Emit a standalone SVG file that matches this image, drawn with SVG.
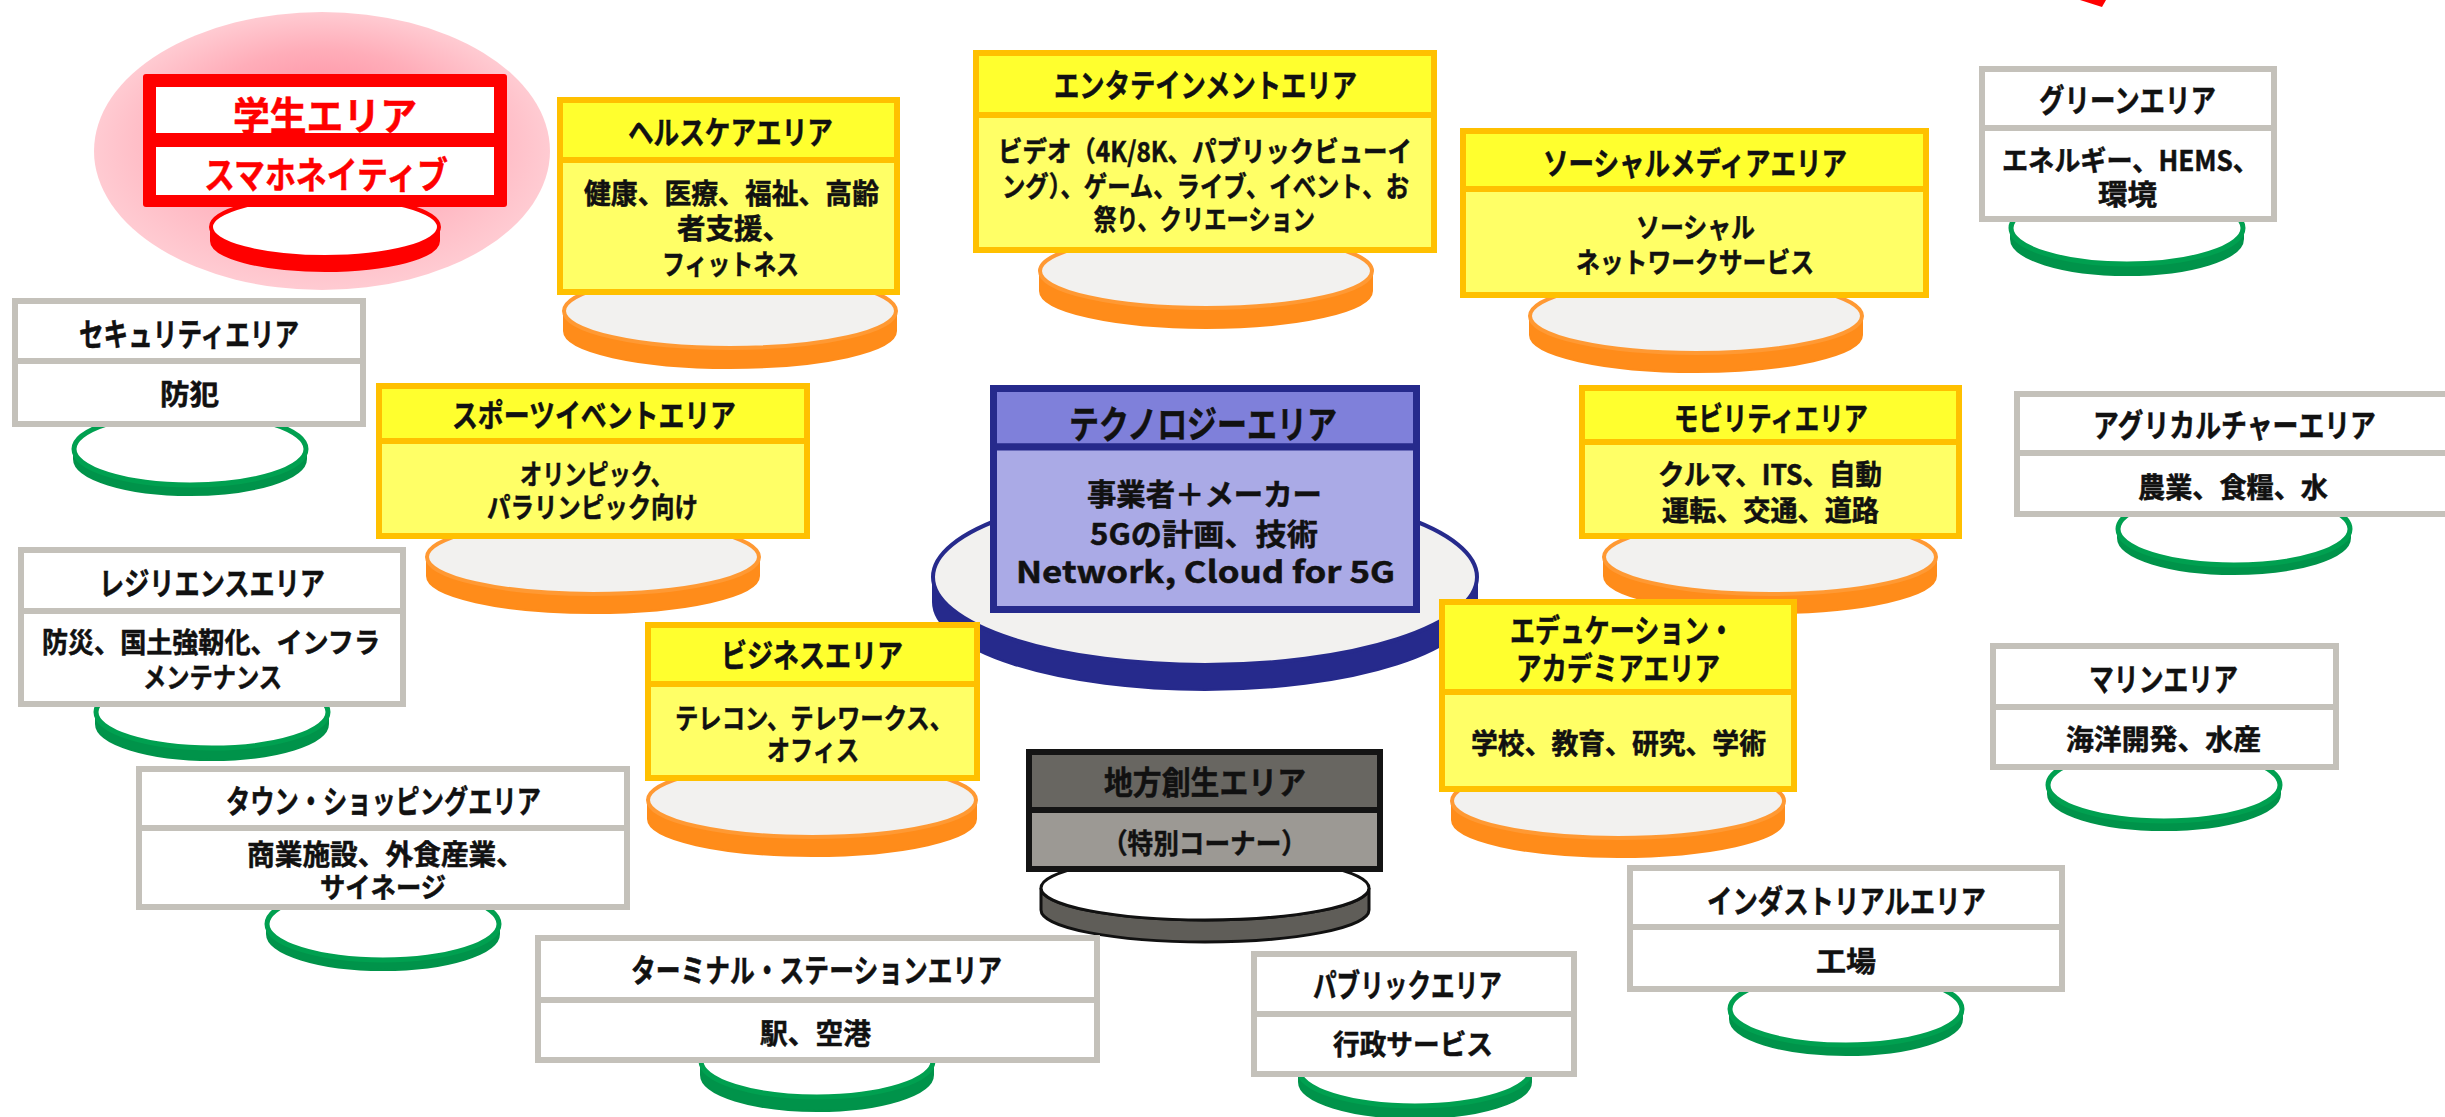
<svg xmlns="http://www.w3.org/2000/svg" width="2445" height="1117" viewBox="0 0 2445 1117">
<defs>
<radialGradient id="pink" cx="0.5" cy="0.5" r="0.5" fx="0.5" fy="0.3">
<stop offset="0" stop-color="#FF93A5"/>
<stop offset="0.55" stop-color="#FFADB9"/>
<stop offset="1" stop-color="#FFCBD2"/>
</radialGradient>
</defs>
<style>
.t{font-family:"Noto Sans CJK JP","Noto Sans",sans-serif;font-weight:700;text-anchor:middle;dominant-baseline:central;fill:#111;stroke:#111;stroke-width:0.5}
.ti{font-size:32px}
.bd{font-size:28px}
.yt{fill:#FFFF2E;stroke:#FFC000;stroke-width:6}
.yb{fill:#FFFF66;stroke:#FFC000;stroke-width:6}
.gc{fill:#FFFFFF;stroke:#C4C1BA;stroke-width:6}
.os{fill:#FF8C1A;stroke:#FF8C1A;stroke-width:2}
.ot{fill:#F2F1EF;stroke:#FF9933;stroke-width:4}
.gs{fill:#00934A;stroke:#00934A;stroke-width:2}
.gt{fill:#FFFFFF;stroke:#00A050;stroke-width:5}
</style>
<rect x="0" y="0" width="2445" height="1117" fill="#FFFFFF"/>
<polygon points="2080,0 2106,0 2102,7" fill="#FF0000"/>
<g id="connectors"/>

<g id="student">
<ellipse cx="322" cy="151" rx="228" ry="139" fill="url(#pink)"/>
<path d="M211,227 A114,30 0 0 0 439,227 L439,241 A114,30 0 0 1 211,241 Z" fill="#FF0000" stroke="#FF0000" stroke-width="2"/>
<ellipse cx="325" cy="227" rx="114" ry="30" fill="#FFFFFF" stroke="#FF0000" stroke-width="4"/>
<rect x="143" y="74" width="364" height="133" rx="3" fill="#FF0000"/>
<rect x="156" y="87" width="338" height="46" fill="#FFFFFF"/>
<rect x="156" y="147" width="338" height="48" fill="#FFFFFF"/>
<text class="t" x="325" y="113" font-size="39" textLength="184" lengthAdjust="spacingAndGlyphs" style="fill:#FF0000;stroke:#FF0000">学生エリア</text>
<text class="t" x="326" y="173" font-size="37" textLength="244" lengthAdjust="spacingAndGlyphs" style="fill:#FF0000;stroke:#FF0000">スマホネイティブ</text>
</g>

<g id="healthcare">
<path class="os" d="M564,311 A166,37 0 0 0 896,311 L896,331 A166,37 0 0 1 564,331 Z"/>
<ellipse class="ot" cx="730" cy="311" rx="166" ry="37"/>
<rect class="yt" x="560" y="100" width="337" height="60"/>
<rect class="yb" x="560" y="160" width="337" height="132"/>
<text class="t ti" x="730.5" y="130" textLength="205" lengthAdjust="spacingAndGlyphs">ヘルスケアエリア</text>
<text class="t bd" x="731.5" y="192" textLength="295" lengthAdjust="spacingAndGlyphs">健康、医療、福祉、高齢</text>
<text class="t bd" x="734" y="227" textLength="114" lengthAdjust="spacingAndGlyphs">者支援、</text>
<text class="t bd" x="730.5" y="263" textLength="137" lengthAdjust="spacingAndGlyphs">フィットネス</text>
</g>

<g id="entertainment">
<path class="os" d="M1040,271 A166,37 0 0 0 1372,271 L1372,291 A166,37 0 0 1 1040,291 Z"/>
<ellipse class="ot" cx="1206" cy="271" rx="166" ry="37"/>
<rect class="yt" x="976" y="53" width="458" height="62"/>
<rect class="yb" x="976" y="115" width="458" height="135"/>
<text class="t ti" x="1205.5" y="83" textLength="303" lengthAdjust="spacingAndGlyphs">エンタテインメントエリア</text>
<text class="t bd" x="1205" y="150" textLength="414" lengthAdjust="spacingAndGlyphs">ビデオ（4K/8K、パブリックビューイ</text>
<text class="t bd" x="1205.5" y="185" textLength="407" lengthAdjust="spacingAndGlyphs">ング）、ゲーム、ライブ、イベント、お</text>
<text class="t bd" x="1204.5" y="218" textLength="221" lengthAdjust="spacingAndGlyphs">祭り、クリエーション</text>
</g>

<g id="social">
<path class="os" d="M1530,316 A166,37 0 0 0 1862,316 L1862,335 A166,37 0 0 1 1530,335 Z"/>
<ellipse class="ot" cx="1696" cy="316" rx="166" ry="37"/>
<rect class="yt" x="1463" y="131" width="463" height="58"/>
<rect class="yb" x="1463" y="189" width="463" height="106"/>
<text class="t ti" x="1695" y="161" textLength="304" lengthAdjust="spacingAndGlyphs">ソーシャルメディアエリア</text>
<text class="t bd" x="1695.5" y="226" textLength="119" lengthAdjust="spacingAndGlyphs">ソーシャル</text>
<text class="t bd" x="1695" y="261" textLength="238" lengthAdjust="spacingAndGlyphs">ネットワークサービス</text>
</g>

<g id="green">
<path class="gs" d="M2011,228 A116,36 0 0 0 2243,228 L2243,239 A116,36 0 0 1 2011,239 Z"/>
<ellipse class="gt" cx="2127" cy="228" rx="116" ry="36"/>
<rect class="gc" x="1982" y="69" width="292" height="59"/>
<rect class="gc" x="1982" y="128" width="292" height="91"/>
<text class="t ti" x="2127.5" y="98" textLength="177" lengthAdjust="spacingAndGlyphs">グリーンエリア</text>
<text class="t bd" x="2130.5" y="159" textLength="257" lengthAdjust="spacingAndGlyphs">エネルギー、HEMS、</text>
<text class="t bd" x="2127.5" y="193" textLength="59" lengthAdjust="spacingAndGlyphs">環境</text>
</g>

<g id="security">
<path class="gs" d="M74,449 A116,36 0 0 0 306,449 L306,459 A116,36 0 0 1 74,459 Z"/>
<ellipse class="gt" cx="190" cy="449" rx="116" ry="36"/>
<rect class="gc" x="15" y="301" width="348" height="60"/>
<rect class="gc" x="15" y="361" width="348" height="63"/>
<text class="t ti" x="189" y="332" textLength="220" lengthAdjust="spacingAndGlyphs">セキュリティエリア</text>
<text class="t bd" x="189.5" y="393" textLength="59" lengthAdjust="spacingAndGlyphs">防犯</text>
</g>

<g id="sports">
<path class="os" d="M427,557 A166,37 0 0 0 759,557 L759,576 A166,37 0 0 1 427,576 Z"/>
<ellipse class="ot" cx="593" cy="557" rx="166" ry="37"/>
<rect class="yt" x="379" y="386" width="428" height="55"/>
<rect class="yb" x="379" y="441" width="428" height="95"/>
<text class="t ti" x="594" y="413" textLength="284" lengthAdjust="spacingAndGlyphs">スポーツイベントエリア</text>
<text class="t bd" x="596.5" y="473" textLength="153" lengthAdjust="spacingAndGlyphs">オリンピック、</text>
<text class="t bd" x="592.5" y="506" textLength="211" lengthAdjust="spacingAndGlyphs">パラリンピック向け</text>
</g>

<g id="technology">
<path d="M933,577 A272,88 0 0 0 1477,577 L1477,602 A272,88 0 0 1 933,602 Z" fill="#262A8C" stroke="#262A8C" stroke-width="2"/>
<ellipse cx="1205" cy="577" rx="272" ry="88" fill="#F2F1EF" stroke="#262A8C" stroke-width="4"/>
<rect x="993.5" y="388.5" width="423" height="58.5" fill="#7F80DA" stroke="#262A8C" stroke-width="7"/>
<rect x="993.5" y="447" width="423" height="162.5" fill="#AAAAE6" stroke="#262A8C" stroke-width="7"/>
<text class="t" x="1203" y="421" font-size="38" textLength="268" lengthAdjust="spacingAndGlyphs">テクノロジーエリア</text>
<text class="t" x="1204.5" y="492" font-size="30" textLength="235" lengthAdjust="spacingAndGlyphs">事業者＋メーカー</text>
<text class="t" x="1204" y="532" font-size="30" textLength="228" lengthAdjust="spacingAndGlyphs">5Gの計画、技術</text>
<text class="t" x="1205.5" y="570" font-size="30" textLength="379" lengthAdjust="spacingAndGlyphs">Network, Cloud for 5G</text>
</g>

<g id="mobility">
<path class="os" d="M1604,557 A166,37 0 0 0 1936,557 L1936,576 A166,37 0 0 1 1604,576 Z"/>
<ellipse class="ot" cx="1770" cy="557" rx="166" ry="37"/>
<rect class="yt" x="1582" y="388" width="377" height="54"/>
<rect class="yb" x="1582" y="442" width="377" height="94"/>
<text class="t ti" x="1771" y="416" textLength="194" lengthAdjust="spacingAndGlyphs">モビリティエリア</text>
<text class="t bd" x="1770" y="473" textLength="224" lengthAdjust="spacingAndGlyphs">クルマ、ITS、自動</text>
<text class="t bd" x="1770.5" y="509" textLength="217" lengthAdjust="spacingAndGlyphs">運転、交通、道路</text>
</g>

<g id="agriculture">
<path class="gs" d="M2118,529 A116,36 0 0 0 2350,529 L2350,538 A116,36 0 0 1 2118,538 Z"/>
<ellipse class="gt" cx="2234" cy="529" rx="116" ry="36"/>
<rect class="gc" x="2017" y="394" width="440" height="59"/>
<rect class="gc" x="2017" y="453" width="440" height="61"/>
<text class="t ti" x="2234.5" y="423" textLength="283" lengthAdjust="spacingAndGlyphs">アグリカルチャーエリア</text>
<text class="t bd" x="2233" y="486" textLength="190" lengthAdjust="spacingAndGlyphs">農業、食糧、水</text>
</g>

<g id="resilience">
<path class="gs" d="M96,712 A116,36 0 0 0 328,712 L328,724 A116,36 0 0 1 96,724 Z"/>
<ellipse class="gt" cx="212" cy="712" rx="116" ry="36"/>
<rect class="gc" x="21" y="550" width="382" height="61"/>
<rect class="gc" x="21" y="611" width="382" height="93"/>
<text class="t ti" x="212" y="581" textLength="226" lengthAdjust="spacingAndGlyphs">レジリエンスエリア</text>
<text class="t bd" x="211" y="641" textLength="338" lengthAdjust="spacingAndGlyphs">防災、国土強靭化、インフラ</text>
<text class="t bd" x="212.5" y="676" textLength="139" lengthAdjust="spacingAndGlyphs">メンテナンス</text>
</g>

<g id="business">
<path class="os" d="M648,800 A164,37 0 0 0 976,800 L976,819 A164,37 0 0 1 648,819 Z"/>
<ellipse class="ot" cx="812" cy="800" rx="164" ry="37"/>
<rect class="yt" x="648" y="625" width="329" height="59"/>
<rect class="yb" x="648" y="684" width="329" height="94"/>
<text class="t ti" x="812" y="653" textLength="182" lengthAdjust="spacingAndGlyphs">ビジネスエリア</text>
<text class="t bd" x="814" y="717" textLength="278" lengthAdjust="spacingAndGlyphs">テレコン、テレワークス、</text>
<text class="t bd" x="813" y="749" textLength="92" lengthAdjust="spacingAndGlyphs">オフィス</text>
</g>

<g id="education">
<path class="os" d="M1452,801 A166,37 0 0 0 1784,801 L1784,820 A166,37 0 0 1 1452,820 Z"/>
<ellipse class="ot" cx="1618" cy="801" rx="166" ry="37"/>
<rect class="yt" x="1442" y="602" width="352" height="90"/>
<rect class="yb" x="1442" y="692" width="352" height="97"/>
<text class="t ti" x="1622" y="628" textLength="224" lengthAdjust="spacingAndGlyphs">エデュケーション・</text>
<text class="t ti" x="1618" y="666" textLength="204" lengthAdjust="spacingAndGlyphs">アカデミアエリア</text>
<text class="t bd" x="1618.5" y="742" textLength="295" lengthAdjust="spacingAndGlyphs">学校、教育、研究、学術</text>
</g>

<g id="marine">
<path class="gs" d="M2048,785 A116,36 0 0 0 2280,785 L2280,794 A116,36 0 0 1 2048,794 Z"/>
<ellipse class="gt" cx="2164" cy="785" rx="116" ry="36"/>
<rect class="gc" x="1993" y="646" width="343" height="61"/>
<rect class="gc" x="1993" y="707" width="343" height="60"/>
<text class="t ti" x="2163.5" y="677" textLength="149" lengthAdjust="spacingAndGlyphs">マリンエリア</text>
<text class="t bd" x="2163.5" y="738" textLength="195" lengthAdjust="spacingAndGlyphs">海洋開発、水産</text>
</g>

<g id="regional">
<path d="M1041,888 A164,32 0 0 0 1369,888 L1369,910 A164,32 0 0 1 1041,910 Z" fill="#5F5D58" stroke="#111111" stroke-width="3"/>
<ellipse cx="1205" cy="888" rx="164" ry="32" fill="#FFFFFF" stroke="#111111" stroke-width="3"/>
<rect x="1029" y="752" width="351" height="58" fill="#686661" stroke="#141414" stroke-width="6"/>
<rect x="1029" y="810" width="351" height="59" fill="#9C9994" stroke="#141414" stroke-width="6"/>
<text class="t ti" x="1205" y="780" textLength="202" lengthAdjust="spacingAndGlyphs">地方創生エリア</text>
<text class="t bd" x="1204.5" y="842" textLength="205" lengthAdjust="spacingAndGlyphs">（特別コーナー）</text>
</g>

<g id="town">
<path class="gs" d="M267,924 A116,36 0 0 0 499,924 L499,934 A116,36 0 0 1 267,934 Z"/>
<ellipse class="gt" cx="383" cy="924" rx="116" ry="36"/>
<rect class="gc" x="139" y="769" width="488" height="59"/>
<rect class="gc" x="139" y="828" width="488" height="79"/>
<text class="t ti" x="383.5" y="799" textLength="315" lengthAdjust="spacingAndGlyphs">タウン・ショッピングエリア</text>
<text class="t bd" x="385.5" y="853" textLength="277" lengthAdjust="spacingAndGlyphs">商業施設、外食産業、</text>
<text class="t bd" x="383" y="886" textLength="126" lengthAdjust="spacingAndGlyphs">サイネージ</text>
</g>

<g id="industrial">
<path class="gs" d="M1730,1009 A116,36 0 0 0 1962,1009 L1962,1019 A116,36 0 0 1 1730,1019 Z"/>
<ellipse class="gt" cx="1846" cy="1009" rx="116" ry="36"/>
<rect class="gc" x="1630" y="868" width="432" height="59"/>
<rect class="gc" x="1630" y="927" width="432" height="62"/>
<text class="t ti" x="1846.5" y="899" textLength="279" lengthAdjust="spacingAndGlyphs">インダストリアルエリア</text>
<text class="t bd" x="1846" y="960" textLength="60" lengthAdjust="spacingAndGlyphs">工場</text>
</g>

<g id="terminal">
<path class="gs" d="M701,1061 A116,36 0 0 0 933,1061 L933,1075 A116,36 0 0 1 701,1075 Z"/>
<ellipse class="gt" cx="817" cy="1061" rx="116" ry="36"/>
<rect class="gc" x="538" y="938" width="559" height="62"/>
<rect class="gc" x="538" y="1000" width="559" height="60"/>
<text class="t ti" x="816.5" y="968" textLength="371" lengthAdjust="spacingAndGlyphs">ターミナル・ステーションエリア</text>
<text class="t bd" x="815.5" y="1032" textLength="111" lengthAdjust="spacingAndGlyphs">駅、空港</text>
</g>

<g id="public">
<path class="gs" d="M1299,1070 A116,36 0 0 0 1531,1070 L1531,1082 A116,36 0 0 1 1299,1082 Z"/>
<ellipse class="gt" cx="1415" cy="1070" rx="116" ry="36"/>
<rect class="gc" x="1254" y="954" width="320" height="60"/>
<rect class="gc" x="1254" y="1014" width="320" height="60"/>
<text class="t ti" x="1407.5" y="983" textLength="189" lengthAdjust="spacingAndGlyphs">パブリックエリア</text>
<text class="t bd" x="1413" y="1043" textLength="160" lengthAdjust="spacingAndGlyphs">行政サービス</text>
</g>
</svg>
